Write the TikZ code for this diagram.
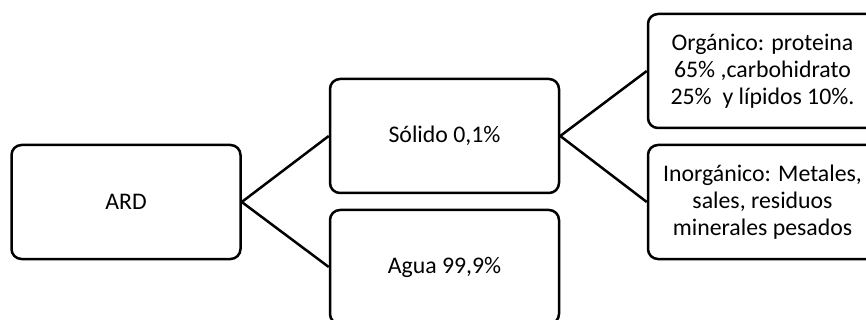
\documentclass[tikz,border=0pt]{standalone}
\usepackage{fontspec}
\setmainfont{Carlito}
\tikzset{
    box/.style = {rectangle, rounded corners=10pt, minimum width=229pt, minimum height=114pt, inner sep=0pt, align=center, draw=black, line width=2.5pt, font=\fontsize{23.8}{27}\selectfont},
    line/.style = {line width=2.5pt}
}
\begin{document}
\begin{tikzpicture}[x=1pt, y=-1pt]
\useasboundingbox (0,0) rectangle (866,320);
\clip (0,0) rectangle (866,320);
\node (ard) [box] at (126,202) {ARD};
\node (solido) [box] at (444.5,136) {Sólido 0,1\%};
\node (agua) [box] at (444.5,267) {Agua 99,9\%};
\node (organico) [box] at (762.5,71) {Orgánico: proteina\\65\% ,carbohidrato\\25\%\ \ y lípidos 10\%.};
\node (inorganico) [box] at (762.5,202) {Inorgánico: Metales,\\sales, residuos\\minerales pesados};

\draw [line] (ard.east) -- (solido.west);
\draw [line] (ard.east) -- (agua.west);
\draw [line] (solido.east) -- (organico.west);
\draw [line] (solido.east) -- (inorganico.west);
\end{tikzpicture}
\end{document}
